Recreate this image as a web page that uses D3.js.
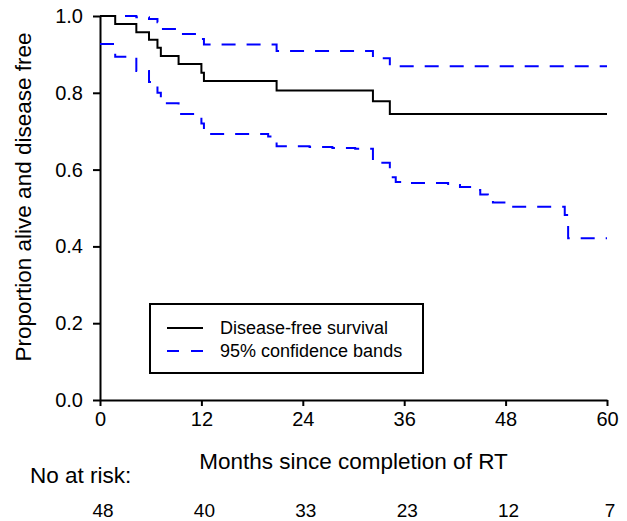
<!DOCTYPE html>
<html>
<head>
<meta charset="utf-8">
<script src="https://cdn.jsdelivr.net/npm/d3@7"></script>
<style>
  body { margin: 0; background: #fff; }
  text { font-family: "Liberation Sans", Arial, sans-serif; fill: #000; }
</style>
</head>
<body>
<div class="chart"></div>
<script>
// Kaplan-Meier estimate (step times in months, proportion)
var survTime = [0, 1.8, 4.3, 5.8, 6.8, 7.2, 9.3, 12.0, 12.3, 20.9, 32.3, 34.3, 60];
var survProb = [1.0, 0.979, 0.958, 0.938, 0.917, 0.896, 0.875, 0.852, 0.831, 0.806, 0.778, 0.745, 0.745];

// upper 95% band
var upperTime = [0, 4.3, 5.8, 6.8, 7.2, 9.3, 12.0, 12.3, 20.9, 32.3, 34.3, 60];
var upperProb = [1.0, 0.997, 0.992, 0.984, 0.966, 0.953, 0.94, 0.926, 0.909, 0.890, 0.869, 0.869];

// lower 95% band
var lowerTime = [0, 1.8, 4.3, 5.8, 6.8, 7.2, 9.3, 12.0, 12.3, 19.9, 20.9, 24.8, 27.5, 30.2, 32.3,
  34.3, 35.0, 36.2, 41.2, 42.6, 43.8, 45.0, 45.9, 46.5, 48.0, 55.0, 55.4, 60];
var lowerProb = [0.927, 0.894, 0.857, 0.828, 0.800, 0.773, 0.745, 0.720, 0.693, 0.686, 0.661, 0.659, 0.656, 0.654, 0.618,
  0.580, 0.568, 0.565, 0.560, 0.555, 0.547, 0.535, 0.524, 0.514, 0.503, 0.482, 0.421, 0.421];

var xTicks = [0, 12, 24, 36, 48, 60];
var yTicks = [0, 0.2, 0.4, 0.6, 0.8, 1.0];
var atRisk = [48, 40, 33, 23, 12, 7];

var svgWidth = 627;
var svgHeight = 521;
var margin = { top: 16, right: 20, bottom: 121, left: 100 };
var width = 607 - margin.left;
var height = 400 - margin.top;

var svg = d3.select(".chart")
  .append("svg")
  .attr("width", svgWidth)
  .attr("height", svgHeight);

var chartGroup = svg.append("g")
  .attr("transform", `translate(${margin.left}, ${margin.top})`);

var xScale = d3.scaleLinear().domain([0, 60]).range([0, width]);
var yScale = d3.scaleLinear().domain([0, 1]).range([height, 0]);

// axes
var bottomAxis = d3.axisBottom(xScale).tickValues(xTicks).tickSize(6).tickSizeOuter(0).tickPadding(6);
var leftAxis = d3.axisLeft(yScale).tickValues(yTicks).tickSize(7).tickSizeOuter(0).tickPadding(10)
  .tickFormat(d3.format(".1f"));

var xAxis = chartGroup.append("g")
  .attr("transform", `translate(0, ${height})`)
  .call(bottomAxis);

var yAxis = chartGroup.append("g")
  .call(leftAxis);

[xAxis, yAxis].forEach(function(ax) {
  ax.select(".domain").attr("stroke", "#000").attr("stroke-width", 2);
  ax.selectAll(".tick line").attr("stroke", "#000").attr("stroke-width", 2);
  ax.selectAll(".tick text")
    .attr("font-size", 20)
    .attr("font-family", "Liberation Sans, Arial, sans-serif");
});

// step lines
var stepLine = d3.line()
  .x(d => xScale(d[0]))
  .y(d => yScale(d[1]))
  .curve(d3.curveStepAfter);

function pairs(t, p) {
  return t.map((d, i) => [d, p[i]]);
}

chartGroup.append("path")
  .datum(pairs(upperTime, upperProb))
  .attr("d", stepLine)
  .attr("fill", "none")
  .attr("stroke", "#0000ff")
  .attr("stroke-width", 2)
  .attr("stroke-dasharray", "14,11");

chartGroup.append("path")
  .datum(pairs(lowerTime, lowerProb))
  .attr("d", stepLine)
  .attr("fill", "none")
  .attr("stroke", "#0000ff")
  .attr("stroke-width", 2)
  .attr("stroke-dasharray", "14,11");

chartGroup.append("path")
  .datum(pairs(survTime, survProb))
  .attr("d", stepLine)
  .attr("fill", "none")
  .attr("stroke", "#000")
  .attr("stroke-width", 2);

// axis labels
svg.append("text")
  .attr("transform", "rotate(-90)")
  .attr("x", -197)
  .attr("y", 31)
  .attr("text-anchor", "middle")
  .attr("font-size", 22.5)
  .text("Proportion alive and disease free");

svg.append("text")
  .attr("x", margin.left + width / 2)
  .attr("y", 469)
  .attr("text-anchor", "middle")
  .attr("font-size", 22.5)
  .text("Months since completion of RT");

svg.append("text")
  .attr("x", 30)
  .attr("y", 483)
  .attr("font-size", 22.5)
  .text("No at risk:");

// numbers at risk under each tick
svg.selectAll(".risk")
  .data(atRisk)
  .enter()
  .append("text")
  .attr("class", "risk")
  .attr("x", (d, i) => margin.left + xScale(xTicks[i]) + 3)
  .attr("y", 517)
  .attr("text-anchor", "middle")
  .attr("font-size", 19)
  .text(d => d);

// legend
var legend = svg.append("g");

legend.append("rect")
  .attr("x", 150)
  .attr("y", 304)
  .attr("width", 273)
  .attr("height", 69)
  .attr("fill", "#fff")
  .attr("stroke", "#000")
  .attr("stroke-width", 2);

legend.append("line")
  .attr("x1", 167).attr("x2", 203)
  .attr("y1", 328).attr("y2", 328)
  .attr("stroke", "#000")
  .attr("stroke-width", 2);

legend.append("line")
  .attr("x1", 167).attr("x2", 203)
  .attr("y1", 351).attr("y2", 351)
  .attr("stroke", "#0000ff")
  .attr("stroke-width", 2)
  .attr("stroke-dasharray", "12,12");

legend.append("text")
  .attr("x", 220)
  .attr("y", 334)
  .attr("font-size", 18)
  .text("Disease-free survival");

legend.append("text")
  .attr("x", 220)
  .attr("y", 357)
  .attr("font-size", 18)
  .text("95% confidence bands");
</script>
</body>
</html>
